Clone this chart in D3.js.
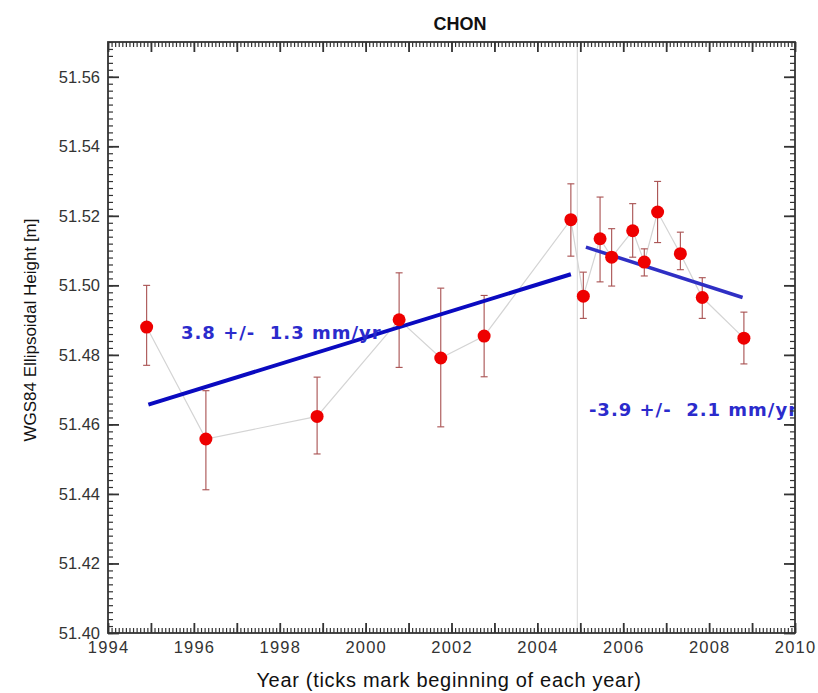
<!DOCTYPE html>
<html>
<head>
<meta charset="utf-8">
<script src="https://cdn.jsdelivr.net/npm/d3@7"></script>
<style>
  body { margin: 0; background: #fff; }
  svg { font-family: "Liberation Sans", Arial, sans-serif; }
</style>
</head>
<body>
<script>
// station time series (year, height, error bar low/high)
var years   = [1994.90, 1996.28, 1998.87, 2000.78, 2001.75, 2002.76, 2004.78, 2005.07,
               2005.46, 2005.73, 2006.22, 2006.49, 2006.80, 2007.33, 2007.84, 2008.81];
var heights = [51.488, 51.4558, 51.4623, 51.4901, 51.4791, 51.4854, 51.5189, 51.4969,
               51.5134, 51.5081, 51.5157, 51.5067, 51.5211, 51.5091, 51.4965, 51.4848];
var errLow  = [51.477, 51.4412, 51.4515, 51.4764, 51.4593, 51.4737, 51.5084, 51.4905,
               51.501, 51.4998, 51.5081, 51.5027, 51.5123, 51.5045, 51.4905, 51.4774];
var errHigh = [51.500, 51.4697, 51.4736, 51.5036, 51.4992, 51.4971, 51.5292, 51.5038,
               51.5254, 51.5163, 51.5235, 51.5105, 51.5299, 51.5153, 51.5022, 51.4923];

// fitted trends before / after the break
var trend1 = [[1994.94, 51.4657], [2004.78, 51.5032]];
var trend2 = [[2005.13, 51.511], [2008.78, 51.4965]];
var breakYear = 2004.93;
var trendLabels = ["3.8 +/-  1.3 mm/yr", "-3.9 +/-  2.1 mm/yr"];
var labelPos = [[1995.70, 51.4845], [2005.20, 51.4625]];

var xTicks = [1994, 1996, 1998, 2000, 2002, 2004, 2006, 2008, 2010];
var yTicks = [51.40, 51.42, 51.44, 51.46, 51.48, 51.50, 51.52, 51.54, 51.56];

var svgWidth = 818, svgHeight = 693;
var margin = { top: 42, right: 23, bottom: 60, left: 108 };
var width = svgWidth - margin.left - margin.right;
var height = svgHeight - margin.top - margin.bottom;

var xscale = d3.scaleLinear().domain([1994, 2010]).range([0, width]);
var yscale = d3.scaleLinear().domain([51.40, 51.57]).range([height, 0]);

var svg = d3.select("body").append("svg")
    .attr("width", svgWidth)
    .attr("height", svgHeight);

svg.append("defs").append("clipPath").attr("id", "plotclip")
    .append("rect").attr("width", width).attr("height", height);

var g = svg.append("g")
    .attr("transform", "translate(" + margin.left + "," + margin.top + ")");

// title
svg.append("text")
    .attr("x", 460).attr("y", 30)
    .attr("text-anchor", "middle")
    .attr("font-size", 18).attr("font-weight", "bold")
    .attr("fill", "#111")
    .text("CHON");

// break line
g.append("line")
    .attr("x1", xscale(breakYear)).attr("x2", xscale(breakYear))
    .attr("y1", 0).attr("y2", height)
    .attr("stroke", "#d8d8d8").attr("stroke-width", 1);

var pts = years.map(function(y, i) {
    return { year: y, h: heights[i], lo: errLow[i], hi: errHigh[i] };
});

// grey connecting line
var line = d3.line()
    .x(function(d) { return xscale(d.year); })
    .y(function(d) { return yscale(d.h); });
g.append("path").datum(pts)
    .attr("fill", "none")
    .attr("stroke", "#d4d4d4")
    .attr("stroke-width", 1.2)
    .attr("d", line);

// error bars
var eb = g.selectAll(".err").data(pts).enter().append("g").attr("class", "err")
    .attr("stroke", "#a85050").attr("stroke-width", 1.1);
eb.append("line")
    .attr("x1", function(d) { return xscale(d.year); })
    .attr("x2", function(d) { return xscale(d.year); })
    .attr("y1", function(d) { return yscale(d.lo); })
    .attr("y2", function(d) { return yscale(d.hi); });
eb.append("line")
    .attr("x1", function(d) { return xscale(d.year) - 3.5; })
    .attr("x2", function(d) { return xscale(d.year) + 3.5; })
    .attr("y1", function(d) { return yscale(d.hi); })
    .attr("y2", function(d) { return yscale(d.hi); });
eb.append("line")
    .attr("x1", function(d) { return xscale(d.year) - 3.5; })
    .attr("x2", function(d) { return xscale(d.year) + 3.5; })
    .attr("y1", function(d) { return yscale(d.lo); })
    .attr("y2", function(d) { return yscale(d.lo); });

// trend lines
var tline = d3.line()
    .x(function(d) { return xscale(d[0]); })
    .y(function(d) { return yscale(d[1]); });
g.append("path").datum(trend1)
    .attr("fill", "none").attr("stroke", "#0a0ac0").attr("stroke-width", 4)
    .attr("d", tline);
g.append("path").datum(trend2)
    .attr("fill", "none").attr("stroke", "#2f2fc4").attr("stroke-width", 3.5)
    .attr("d", tline);

// points
g.selectAll(".pt").data(pts).enter().append("circle")
    .attr("class", "pt")
    .attr("cx", function(d) { return xscale(d.year); })
    .attr("cy", function(d) { return yscale(d.h); })
    .attr("r", 6.5)
    .attr("fill", "#ee0000");

// rate labels (clipped at the plot frame like the original)
g.append("g").attr("clip-path", "url(#plotclip)")
    .selectAll("text").data(trendLabels).enter().append("text")
    .attr("x", function(d, i) { return xscale(labelPos[i][0]); })
    .attr("y", function(d, i) { return yscale(labelPos[i][1]); })
    .style("font-family", "'DejaVu Sans', Verdana, sans-serif")
    .style("white-space", "pre")
    .style("letter-spacing", "1px")
    .attr("font-size", 18).attr("font-weight", "bold")
    .attr("fill", "#2b2bcc")
    .text(function(d) { return d; });

// frame: inward ticks on all four sides, drawn with d3 axes
var axisColor = "#333";
var minorX = d3.range(0, 193).map(function(i) { return 1994 + i / 12; });
var majorX = d3.range(1994, 2011, 1);
var minorY = d3.range(0, 86).map(function(i) { return 51.40 + i * 0.002; });

function tickAxis(axis, values, len, tx, ty, sw) {
    var a = g.append("g")
        .attr("transform", "translate(" + tx + "," + ty + ")")
        .call(axis.tickValues(values).tickSize(-len).tickFormat(""));
    a.select(".domain").remove();
    a.selectAll(".tick line")
        .attr("stroke", axisColor)
        .style("stroke-width", sw + "px");
    a.selectAll("text").remove();
}
tickAxis(d3.axisBottom(xscale), minorX, 5, 0, height, 1.2);
tickAxis(d3.axisBottom(xscale), majorX, 10, 0, height, 1.8);
tickAxis(d3.axisTop(xscale), minorX, 5, 0, 0, 1.2);
tickAxis(d3.axisTop(xscale), majorX, 10, 0, 0, 1.8);
tickAxis(d3.axisLeft(yscale), minorY, 5, 0, 0, 1.2);
tickAxis(d3.axisLeft(yscale), yTicks, 11, 0, 0, 1.8);
tickAxis(d3.axisRight(yscale), minorY, 5, width, 0, 1.2);
tickAxis(d3.axisRight(yscale), yTicks, 11, width, 0, 1.8);

// tick labels
var yl = g.append("g").call(d3.axisLeft(yscale).tickValues(yTicks).tickSize(0)
    .tickPadding(8).tickFormat(d3.format(".2f")));
yl.select(".domain").remove();
yl.selectAll("text").attr("font-size", 16.5).attr("fill", "#333")
    .style("font-family", "'Liberation Sans', Arial, sans-serif");

var xb = g.append("g").attr("transform", "translate(0," + height + ")")
    .call(d3.axisBottom(xscale).tickValues(xTicks).tickSize(0)
    .tickPadding(8).tickFormat(d3.format("d")));
xb.select(".domain").remove();
xb.selectAll("text").attr("font-size", 16.5).attr("fill", "#333")
    .style("letter-spacing", "1.2px")
    .style("font-family", "'Liberation Sans', Arial, sans-serif");

g.append("rect")
    .attr("width", width).attr("height", height)
    .attr("fill", "none").attr("stroke", axisColor).attr("stroke-width", 1.8);

// axis titles
svg.append("text")
    .attr("x", 449).attr("y", 687)
    .attr("text-anchor", "middle")
    .attr("font-size", 20).attr("fill", "#111")
    .style("letter-spacing", "0.7px")
    .text("Year (ticks mark beginning of each year)");

svg.append("text")
    .attr("transform", "translate(36,330) rotate(-90)")
    .attr("text-anchor", "middle")
    .attr("font-size", 17).attr("fill", "#111")
    .text("WGS84 Ellipsoidal Height [m]");
</script>
</body>
</html>
